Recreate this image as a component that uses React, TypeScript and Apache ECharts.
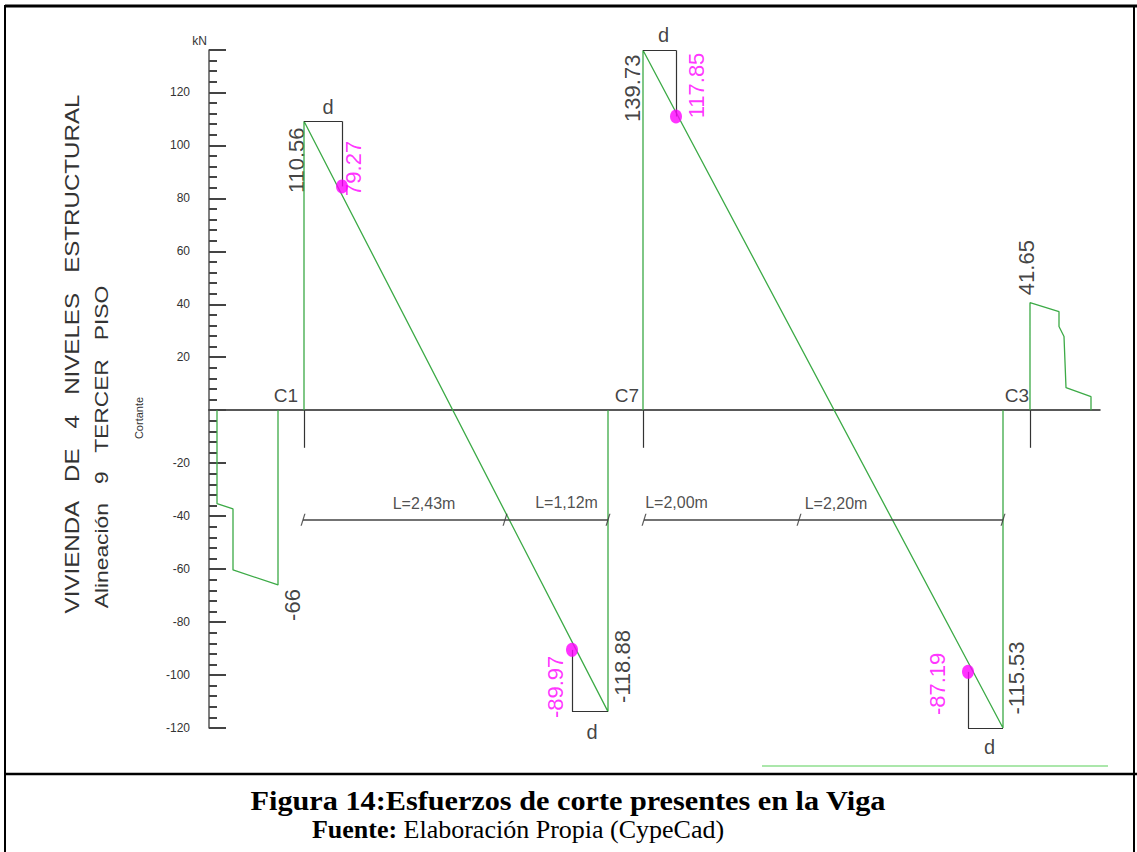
import React, { useEffect, useRef } from 'react';
import * as echarts from 'echarts';

// ---- data (stations in drawing units measured from the shear axis) ----
const supportNames = ['C1', 'C7', 'C3'];
const supportStations = [95, 434, 821];

// Shear force diagram, [station, V (kN)]
const shearLeftCantilever = [[8, 0], [8, -35.3], [24, -37.3], [24, -60.3], [69, -66], [69, 0]];
const shearSpanC1C7 = [[95, 0], [95, 109.1], [399, -113.8], [399, 0]];
const shearSpanC7C3 = [[434, 0], [434, 135.9], [794, -120], [794, 0]];
const shearRightCantilever = [[821, 0], [821, 40.6], [850, 37.2], [850, 31.6], [855, 27.8], [857, 8.5], [882, 5.1], [882, 0]];

// Peak shear values
const peakLabels = ['-66', '110.56', '-118.88', '139.73', '-115.53', '41.65'];
const peakPoints = [[69, -66], [95, 109.1], [399, -113.8], [434, 135.9], [794, -120], [821, 40.6]];

// Shear at distance d from the support face
const dFacePoints = [[95, 109.1], [399, -113.8], [434, 135.9], [794, -120]];
const dLabels = ['79.27', '-89.97', '117.85', '-87.19'];
const dPoints = [[133, 84.5], [363, -90.5], [467, 110.9], [759, -98.8]];

// Dimension chains
const dimChains = [[94, 296, 399], [435, 590, 794]];
const spanLengths = [2.43, 1.12, 2.0, 2.2];
const dimLevel = -41.4;

// Axis
const yMin = -120;
const yMax = 136;
const yStep = 20;

// rotated labels: ECharts rotates the offset with the text, so convert a screen shift
const rotOffset = (s: number[]) => [-s[1], s[0]];

export default function App() {
  const ref = useRef<HTMLDivElement>(null);

  useEffect(() => {
    const chart = echarts.init(ref.current!, null, { renderer: 'svg' });

    const green = '#3caa46';
    const ink = '#333';
    const magenta = '#ff00ff';
    const font = 'Liberation Sans';

    const peakLabelShift = [[14, 20], [-8, 39], [14, -45], [-11, 38], [13, -50], [-4, -35]];
    const dLabelShift = [[11, -18], [-17, 37], [20, -31], [-31, 12]];
    const dLetterOffsets = [[5, -14], [2, 20], [4, -15], [4, 19]];
    const supportLabelOffsets = [[-18, -15], [-16, -15], [-13, -15]];
    const spanLabelOffsets = [[20, -16], [10, -17], [-45, -17], [-65, -16]];

    const shearSeries = [shearLeftCantilever, shearSpanC1C7, shearSpanC7C3, shearRightCantilever].map((d, i) => ({
      type: 'line',
      name: 'Cortante ' + i,
      data: d,
      symbol: 'none',
      silent: true,
      clip: false,
      lineStyle: { color: green, width: 1.3 },
      z: 3,
    }));

    const bracketSegments: any[] = [];
    dFacePoints.forEach((f, i) => {
      const p = dPoints[i];
      bracketSegments.push([{ coord: [f[0], f[1]] }, { coord: [p[0], f[1]] }]);
      bracketSegments.push([{ coord: [p[0], f[1]] }, { coord: [p[0], p[1]] }]);
    });

    const supportSegments = supportStations.map((s) => [{ coord: [s, 0] }, { coord: [s, -14.2] }]);

    const dimSegments = dimChains.map((c) => [{ coord: [c[0], dimLevel] }, { coord: [c[c.length - 1], dimLevel] }]);
    const dimTicks: number[][] = [];
    dimChains.forEach((c) => c.forEach((s) => dimTicks.push([s, dimLevel])));
    const spanMids: number[][] = [];
    dimChains.forEach((c) => {
      for (let k = 0; k < c.length - 1; k++) spanMids.push([(c[k] + c[k + 1]) / 2, dimLevel]);
    });

    const option: any = {
      animation: false,
      backgroundColor: '#ffffff',
      grid: { left: 209, right: 37, top: 50, bottom: 124, containLabel: false },
      xAxis: {
        type: 'value',
        min: 0,
        max: 891,
        axisLine: { show: true, onZero: true, lineStyle: { color: '#222', width: 1.5 } },
        axisTick: { show: false },
        axisLabel: { show: false },
        splitLine: { show: false },
      },
      yAxis: {
        type: 'value',
        min: yMin,
        max: yMax,
        interval: yStep,
        name: 'kN',
        nameLocation: 'end',
        nameGap: 3,
        nameTextStyle: { align: 'right', verticalAlign: 'bottom', fontFamily: font, fontSize: 12, color: '#333', padding: [0, 2, 0, 0] },
        axisLine: { show: true, lineStyle: { color: '#555', width: 1.5 } },
        axisTick: { show: true, inside: true, length: 17, lineStyle: { color: '#444', width: 2 } },
        minorTick: { show: true, splitNumber: 5, length: 8, lineStyle: { color: '#444', width: 2 } },
        axisLabel: {
          margin: 19,
          fontFamily: font,
          fontSize: 12,
          color: '#333',
          formatter: (v: number) => (v === 0 || v === yMax ? '' : String(v)),
        },
        splitLine: { show: false },
      },
      series: [
        ...shearSeries,
        {
          type: 'line',
          name: 'aux',
          data: [],
          silent: true,
          markLine: {
            silent: true,
            symbol: ['none', 'none'],
            label: { show: false },
            lineStyle: { color: ink, width: 1.2, type: 'solid' },
            emphasis: { disabled: true },
            data: [...bracketSegments, ...supportSegments],
          },
        },
        {
          type: 'line',
          name: 'dims',
          data: [],
          silent: true,
          markLine: {
            silent: true,
            symbol: ['none', 'none'],
            label: { show: false },
            lineStyle: { color: '#444', width: 1.5, type: 'solid' },
            emphasis: { disabled: true },
            data: dimSegments,
          },
        },
        {
          type: 'scatter',
          name: 'dimTicks',
          data: dimTicks,
          silent: true,
          symbol: 'path://M3,0 L4,0 L1,12 L0,12 Z',
          symbolSize: [5, 12],
          itemStyle: { color: '#333' },
          z: 4,
        },
        {
          type: 'scatter',
          name: 'spanLabels',
          silent: true,
          symbolSize: 1,
          itemStyle: { color: 'transparent' },
          data: spanMids.map((p, i) => ({
            value: p,
            label: { offset: spanLabelOffsets[i] },
          })),
          label: {
            show: true,
            position: 'inside',
            align: 'center',
            verticalAlign: 'middle',
            fontFamily: font,
            fontSize: 16,
            color: '#222',
            formatter: (p: any) => 'L=' + spanLengths[p.dataIndex].toFixed(2).replace('.', ',') + 'm',
          },
        },
        {
          type: 'scatter',
          name: 'dShear',
          silent: true,
          clip: false,
          symbolSize: [12, 14],
          itemStyle: { color: magenta },
          data: dPoints.map((p, i) => ({ value: p, label: { offset: rotOffset(dLabelShift[i]) } })),
          label: {
            show: true,
            position: 'inside',
            rotate: 90,
            align: 'center',
            verticalAlign: 'middle',
            fontFamily: font,
            fontSize: 22,
            color: magenta,
            formatter: (p: any) => dLabels[p.dataIndex],
          },
          z: 6,
        },
        {
          type: 'scatter',
          name: 'peaks',
          silent: true,
          clip: false,
          symbolSize: 1,
          itemStyle: { color: 'transparent' },
          data: peakPoints.map((p, i) => ({ value: p, label: { offset: rotOffset(peakLabelShift[i]) } })),
          label: {
            show: true,
            position: 'inside',
            rotate: 90,
            align: 'center',
            verticalAlign: 'middle',
            fontFamily: font,
            fontSize: 22,
            color: '#111',
            formatter: (p: any) => peakLabels[p.dataIndex],
          },
        },
        {
          type: 'scatter',
          name: 'dLetters',
          silent: true,
          clip: false,
          symbolSize: 1,
          itemStyle: { color: 'transparent' },
          data: dFacePoints.map((f, i) => ({
            value: [(f[0] + dPoints[i][0]) / 2, f[1]],
            label: { offset: dLetterOffsets[i] },
          })),
          label: {
            show: true,
            position: 'inside',
            align: 'center',
            verticalAlign: 'middle',
            fontFamily: font,
            fontSize: 20,
            color: '#111',
            formatter: () => 'd',
          },
        },
        {
          type: 'scatter',
          name: 'supports',
          silent: true,
          symbolSize: 1,
          itemStyle: { color: 'transparent' },
          data: supportStations.map((s, i) => ({ value: [s, 0], label: { offset: supportLabelOffsets[i] } })),
          label: {
            show: true,
            position: 'inside',
            align: 'center',
            verticalAlign: 'middle',
            fontFamily: font,
            fontSize: 19,
            color: '#111',
            formatter: (p: any) => supportNames[p.dataIndex],
          },
        },
      ],
      graphic: [
        { type: 'line', shape: { x1: 5, y1: 6, x2: 1137, y2: 6 }, style: { stroke: '#000', lineWidth: 3 }, silent: true },
        { type: 'line', shape: { x1: 5, y1: 5, x2: 5, y2: 852 }, style: { stroke: '#000', lineWidth: 2 }, silent: true },
        { type: 'line', shape: { x1: 1134, y1: 5, x2: 1134, y2: 852 }, style: { stroke: '#000', lineWidth: 2 }, silent: true },
        { type: 'line', shape: { x1: 5, y1: 774, x2: 1137, y2: 774 }, style: { stroke: '#000', lineWidth: 2.5 }, silent: true },
        { type: 'line', shape: { x1: 762, y1: 766, x2: 1108, y2: 766 }, style: { stroke: '#8fdf8f', lineWidth: 1.5 }, silent: true },
        {
          type: 'text',
          x: 72,
          y: 354,
          rotation: Math.PI / 2,
          scaleX: 1.15,
          silent: true,
          style: {
            text: 'VIVIENDA   DE   4   NIVELES   ESTRUCTURAL',
            font: '21px "Liberation Sans"',
            fill: '#333',
            align: 'center',
            verticalAlign: 'middle',
          },
        },
        {
          type: 'text',
          x: 101,
          y: 447,
          rotation: Math.PI / 2,
          scaleX: 1.2,
          silent: true,
          style: {
            text: 'Alineación   9   TERCER   PISO',
            font: '19px "Liberation Sans"',
            fill: '#333',
            align: 'center',
            verticalAlign: 'middle',
          },
        },
        {
          type: 'text',
          x: 139,
          y: 418,
          rotation: Math.PI / 2,
          silent: true,
          style: { text: 'Cortante', font: '11px "Liberation Sans"', fill: '#333', align: 'center', verticalAlign: 'middle' },
        },
        {
          type: 'text',
          x: 568,
          y: 800,
          scaleX: 1.08,
          silent: true,
          style: {
            text: 'Figura 14:Esfuerzos de corte presentes en la Viga',
            font: 'bold 28px "Liberation Serif"',
            fill: '#000',
            align: 'center',
            verticalAlign: 'middle',
          },
        },
        {
          type: 'text',
          x: 518,
          y: 829,
          silent: true,
          style: {
            text: '{b|Fuente:}{n| Elaboración Propia (CypeCad)}',
            align: 'center',
            verticalAlign: 'middle',
            rich: {
              b: { fontFamily: 'Liberation Serif', fontWeight: 'bold', fontSize: 26, fill: '#000', color: '#000' },
              n: { fontFamily: 'Liberation Serif', fontSize: 26, fill: '#000', color: '#000' },
            },
          },
        },
      ],
    };

    chart.setOption(option);
    return () => chart.dispose();
  }, []);

  return (
    <div
      ref={ref}
      style={{ position: 'absolute', left: 0, top: 0, width: 1137, height: 852, background: '#fff' }}
    />
  );
}
